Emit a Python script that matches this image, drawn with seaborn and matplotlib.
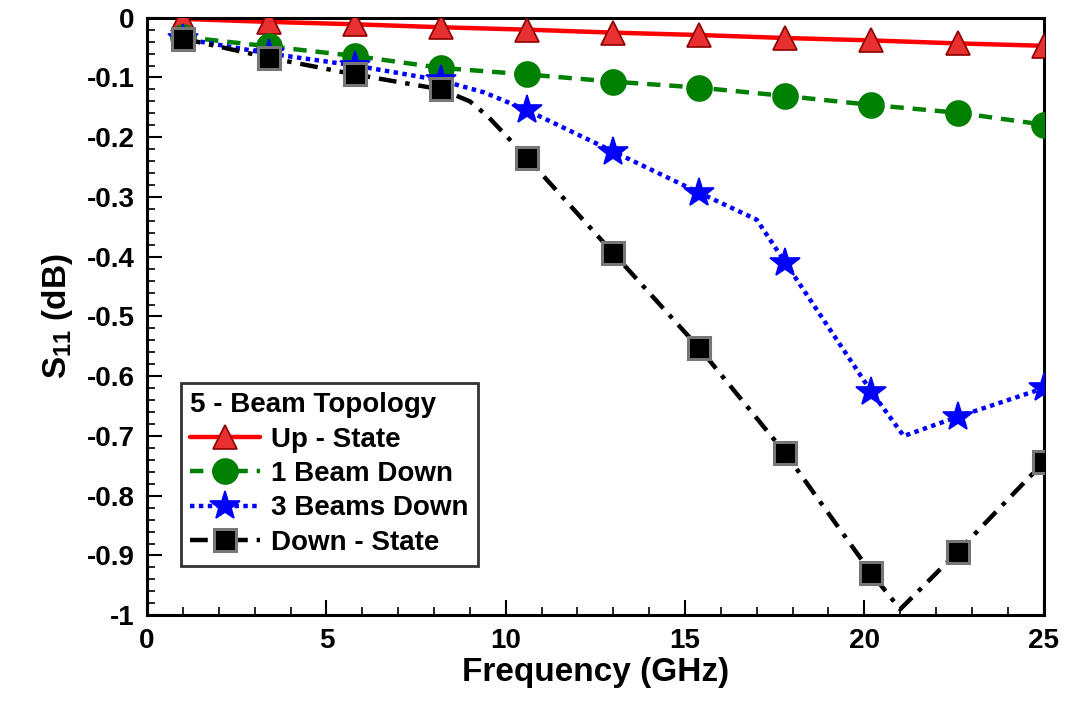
import numpy as np
import pandas as pd
import seaborn as sns
import matplotlib.pyplot as plt
from matplotlib.lines import Line2D

# frequencies where the markers sit (GHz)
freq_mk = [1, 3.4, 5.8, 8.2, 10.6, 13, 15.4, 17.8, 20.2, 22.6, 25]

# S11 (dB) read at the markers
up_state = [-0.002, -0.007, -0.011, -0.016, -0.020, -0.025, -0.029, -0.034, -0.038, -0.043, -0.047]
one_beam = [-0.032, -0.048, -0.064, -0.084, -0.095, -0.107, -0.117, -0.131, -0.146, -0.159, -0.179]
three_beams = [-0.035, -0.060, -0.080, -0.105, -0.155, -0.224, -0.293, -0.410, -0.626, -0.668, -0.620]
down_state = [-0.035, -0.067, -0.095, -0.120, -0.235, -0.394, -0.553, -0.729, -0.930, -0.894, -0.744]

# the lines go through a few extra points between the markers
freq_three_line = [1, 3.4, 5.8, 8.2, 9.4, 10.6, 13, 15.4, 17.0, 17.8, 20.2, 21.1, 22.6, 25]
three_line = [-0.035, -0.060, -0.080, -0.105, -0.125, -0.155, -0.224, -0.293, -0.338, -0.410, -0.626, -0.700, -0.668, -0.620]
freq_down_line = [1, 3.4, 5.8, 8.2, 9.0, 9.5, 10.6, 13, 15.4, 17.8, 20.2, 21.0, 22.6, 25]
down_line = [-0.035, -0.067, -0.095, -0.120, -0.140, -0.165, -0.235, -0.394, -0.553, -0.729, -0.930, -0.990, -0.894, -0.744]

sns.set_style('ticks')
plt.rcParams['font.family'] = ['Liberation Sans', 'DejaVu Sans']
plt.rcParams['font.weight'] = 'bold'
plt.rcParams['mathtext.fontset'] = 'custom'
plt.rcParams['mathtext.rm'] = 'Liberation Sans:bold'
plt.rcParams['mathtext.default'] = 'rm'
for k in ['text.color', 'axes.labelcolor', 'xtick.color', 'ytick.color', 'axes.edgecolor']:
    plt.rcParams[k] = 'black'

fig, ax = plt.subplots(figsize=(10.66, 7.08), dpi=100)
fig.subplots_adjust(left=0.138, right=0.979, top=0.975, bottom=0.131)

series = [
    # label, line x, line y, marker y, color, linestyle, marker, face, edge
    ('Up - State', freq_mk, up_state, up_state, 'red', '-', '^', '#e83030', '#8b0000'),
    ('1 Beam Down', freq_mk, one_beam, one_beam, 'green', (0, (3, 2)), 'o', 'green', 'green'),
    ('3 Beams Down', freq_three_line, three_line, three_beams, 'blue', (0, (1, 1)), '*', 'blue', 'blue'),
    ('Down - State', freq_down_line, down_line, down_state, 'black', (0, (4, 2, 1, 2)), 's', 'black', '#777777'),
]
msizes = {'^': 17, 'o': 18, '*': 22, 's': 16.5}

handles = []
for label, lx, ly, my, col, ls, mk, fc, ec in series:
    df_line = pd.DataFrame({'f': lx, 's11': ly})
    df_mk = pd.DataFrame({'f': freq_mk, 's11': my})
    sns.lineplot(data=df_line, x='f', y='s11', ax=ax, color=col, linestyle=ls,
                 linewidth=3.2, zorder=2)
    sns.lineplot(data=df_mk, x='f', y='s11', ax=ax, linestyle='', marker=mk,
                 markersize=msizes[mk], markerfacecolor=fc, markeredgecolor=ec,
                 markeredgewidth=2.2 if mk == 's' else 1.2, zorder=3)
    handles.append(Line2D([], [], color=col, linestyle=ls, linewidth=3.2, marker=mk,
                          markersize=msizes[mk], markerfacecolor=fc, markeredgecolor=ec,
                          markeredgewidth=2.2 if mk == 's' else 1.2, label=label))

ax.set_xlim(0, 25)
ax.set_ylim(-1, 0)
ax.set_xticks([0, 5, 10, 15, 20, 25])
ax.set_yticks(np.round(np.arange(-1, 0.01, 0.1), 1))
ax.set_yticklabels(['-1', '-0.9', '-0.8', '-0.7', '-0.6', '-0.5', '-0.4', '-0.3', '-0.2', '-0.1', '0'])
ax.set_xticks(np.arange(0, 25.01, 1), minor=True)
ax.set_yticks(np.arange(-1, 0.001, 0.02), minor=True)
ax.tick_params(which='major', direction='in', length=11, width=1.5, labelsize=20, pad=9)
ax.tick_params(which='minor', direction='in', length=6, width=1.2)
for lab in ax.get_xticklabels() + ax.get_yticklabels():
    lab.set_fontweight('bold')
for sp in ax.spines.values():
    sp.set_linewidth(2.2)
    sp.set_color('black')

ax.set_xlabel('Frequency (GHz)', fontsize=24, fontweight='bold', labelpad=2)
ax.set_ylabel(r'S$_{11}$ (dB)', fontsize=24, fontweight='bold', labelpad=8)

leg = ax.legend(handles=handles, title='5 - Beam Topology', loc='lower left',
                bbox_to_anchor=(0.022, 0.06), fontsize=20, title_fontsize=20,
                frameon=True, fancybox=False, handlelength=2.5, handletextpad=0.4,
                labelspacing=0.3, borderpad=0.35, alignment='left')
leg.get_title().set_fontweight('bold')
for t in leg.get_texts():
    t.set_fontweight('bold')
leg.get_frame().set_edgecolor('black')
leg.get_frame().set_linewidth(2.0)

plt.savefig('out.png', dpi=100)
